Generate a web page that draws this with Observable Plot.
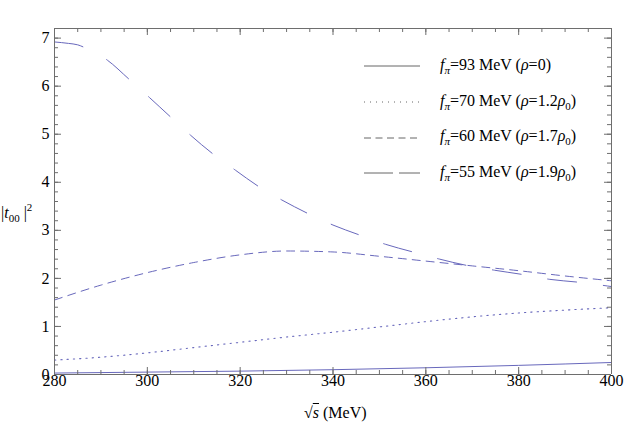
<!DOCTYPE html>
<html><head><meta charset="utf-8">
<script src="https://cdn.jsdelivr.net/npm/d3@7"></script>
<script src="https://cdn.jsdelivr.net/npm/@observablehq/plot@0.6"></script>
<style>
body{margin:0;background:#fff}
#wrap{position:relative;width:632px;height:427px;font-family:'Liberation Serif','Times New Roman',serif;font-size:16px;color:#000}
.lab{position:absolute;white-space:nowrap;line-height:20px}
.lab sub{font-size:11px;vertical-align:-4px;line-height:0}
.lab sup{font-size:11px;vertical-align:7px;line-height:0}
.row{position:absolute;left:364px;height:20px;white-space:nowrap;line-height:20px}
.row svg{vertical-align:middle;margin-right:20px}
</style>
</head><body><div id="wrap"><div id="chart"></div></div>
<script>
// sqrt(s) in MeV, |t00|^2 values
const x93 = [280,300,320,340,360,380,400];
const y93 = [0.03,0.05,0.07,0.10,0.14,0.19,0.25];

const x70 = [280,290,300,310,320,330,340,350,360,370,380,390,400];
const y70 = [0.30,0.36,0.45,0.56,0.67,0.78,0.88,0.99,1.10,1.20,1.28,1.34,1.39];

const x60 = [280,290,300,310,320,330,340,350,360,370,380,390,400];
const y60 = [1.55,1.86,2.12,2.33,2.49,2.57,2.55,2.46,2.36,2.26,2.16,2.05,1.95];

const x55 = [280,283,285,287,291.4,296,300.5,305,309.3,314,319,324,329,334.6,340,345.8,351.3,357.2,363,368.8,374.8,380.9,386.7,392.9,400];
const y55 = [6.92,6.89,6.86,6.78,6.54,6.15,5.76,5.36,4.98,4.60,4.25,3.91,3.63,3.35,3.11,2.90,2.71,2.55,2.40,2.27,2.17,2.08,1.98,1.92,1.83];

const xDomain = [280, 400];
const yDomain = [0, 7.2];
const xMajor = [280,300,320,340,360,380,400];
const yMajor = [0,1,2,3,4,5,6,7];

const legendFpi = ["93", "70", "60", "55"];
const legendRho = ["0", "1.2", "1.7", "1.9"];
const legendDash = [null, "1,5", "7,4.5", "29,6"];

const toRows = (xs, ys) => xs.map((x, i) => ({x, y: ys[i]}));
const color = "#6868bc";
const frameColor = "#6e6e6e";
const xMinor = d3.range(280, 400.01, 5);
const yMinor = d3.range(0, 7.201, 0.2).map(v => Math.round(v * 10) / 10);
const font = "'Liberation Serif', 'Times New Roman', serif";

const W = 632, H = 427, mL = 54, mR = 21, mT = 28, mB = 53;
const innerW = W - mL - mR, innerH = H - mT - mB;
const id = d => d;

// inward tick rules: keep only a short piece at the chosen edge via insets
const ticksBottom = (vals, len) => Plot.ruleX(vals, {x: id, stroke: frameColor, insetTop: innerH - len});
const ticksTop = (vals, len) => Plot.ruleX(vals, {x: id, stroke: frameColor, insetBottom: innerH - len});
const ticksLeft = (vals, len) => Plot.ruleY(vals, {y: id, stroke: frameColor, insetRight: innerW - len});
const ticksRight = (vals, len) => Plot.ruleY(vals, {y: id, stroke: frameColor, insetLeft: innerW - len});

const svg = Plot.plot({
  width: W, height: H,
  marginLeft: mL, marginRight: mR, marginTop: mT, marginBottom: mB,
  style: `font-family: ${font}; font-size: 16px; color: #000; background: #fff;`,
  x: {domain: xDomain, axis: null},
  y: {domain: yDomain, axis: null},
  marks: [
    Plot.line(toRows(x93, y93), {x: "x", y: "y", stroke: color, strokeWidth: 1, curve: "monotone-x"}),
    Plot.line(toRows(x70, y70), {x: "x", y: "y", stroke: color, strokeWidth: 1.1, strokeDasharray: "1.3,5", curve: "monotone-x"}),
    Plot.line(toRows(x60, y60), {x: "x", y: "y", stroke: color, strokeWidth: 1, strokeDasharray: "8,6", curve: "monotone-x"}),
    Plot.line(toRows(x55, y55), {x: "x", y: "y", stroke: color, strokeWidth: 1, strokeDasharray: "29,27", curve: "monotone-x"}),
    // frame
    Plot.ruleX(xDomain, {x: id, stroke: frameColor}),
    Plot.ruleY(yDomain, {y: id, stroke: frameColor}),
    // ticks
    ticksBottom(xMinor, 4), ticksBottom(xMajor, 7),
    ticksTop(xMinor, 4), ticksTop(xMajor, 7),
    ticksLeft(yMinor, 4), ticksLeft(yMajor, 7),
    ticksRight(yMinor, 4), ticksRight(yMajor, 7),
    // tick labels
    Plot.text(xMajor, {x: id, frameAnchor: "bottom", dy: 11, text: d => String(d), fill: "#000", fontFamily: font, fontSize: 16}),
    Plot.text(yMajor, {y: id, frameAnchor: "left", dx: -5, textAnchor: "end", text: d => String(d), fill: "#000", fontFamily: font, fontSize: 16})
  ]
});
document.getElementById("chart").appendChild(svg);

const wrap = document.getElementById("wrap");

// Legend (HTML overlay)
legendFpi.forEach((fpi, i) => {
  const cy = 65 + i * 35.7;
  const row = document.createElement("div");
  row.className = "row";
  row.style.top = (cy - 10) + "px";
  const dash = legendDash[i] ? ` stroke-dasharray="${legendDash[i]}"` : "";
  const rho = legendRho[i] === "0" ? "0" : `${legendRho[i]}<i>ρ</i><sub>0</sub>`;
  row.innerHTML = `<svg width="56" height="10"><line x1="0" x2="56" y1="5" y2="5" stroke="#666" stroke-width="1"${dash}/></svg>` +
    `<span class="lab" style="position:static"><i>f</i><sub><i>π</i></sub>=${fpi} MeV (<i>ρ</i>=${rho})</span>`;
  wrap.appendChild(row);
});

// Y label |t00|^2
const yl = document.createElement("div");
yl.className = "lab";
yl.style.left = "1px"; yl.style.top = "203px";
yl.innerHTML = `|<i>t</i><sub>00</sub> |<sup>2</sup>`;
wrap.appendChild(yl);

// X label sqrt(s) (MeV)
const xl = document.createElement("div");
xl.className = "lab";
xl.style.left = "304px"; xl.style.top = "403px";
xl.innerHTML = `√<i style="text-decoration:overline">s</i> (MeV)`;
wrap.appendChild(xl);
</script>
</body></html>
